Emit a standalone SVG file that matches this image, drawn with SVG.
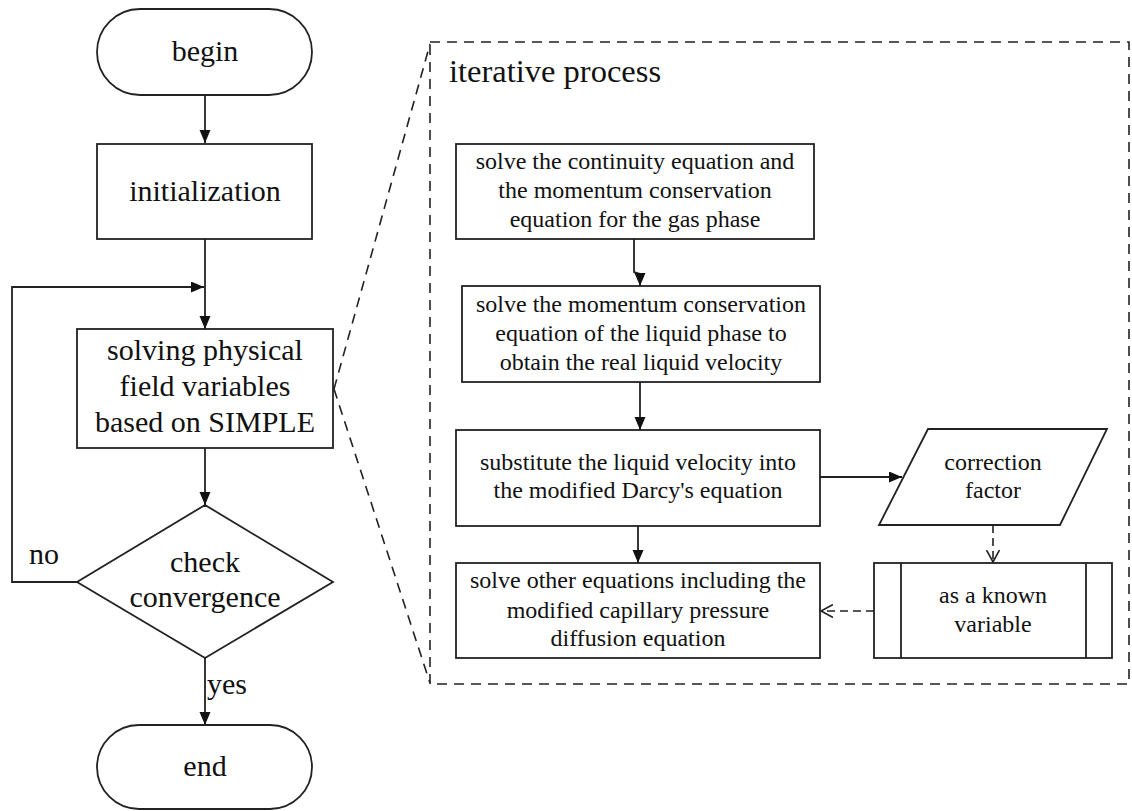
<svg xmlns="http://www.w3.org/2000/svg" width="1132" height="811" viewBox="0 0 1132 811">
<style>
.s{fill:#fff;stroke:#222;stroke-width:1.8}
.t{font-family:"Liberation Serif","Times New Roman",serif;fill:#111;text-anchor:middle}
.big{font-size:30px}
.sm{font-size:24px}
.c{fill:none;stroke:#222;stroke-width:1.8}
.d{fill:none;stroke:#222;stroke-width:1.6;stroke-dasharray:10 7}
.dc{fill:none;stroke:#222;stroke-width:1.6;stroke-dasharray:8 5}
</style>
<defs>
<marker id="a" markerUnits="userSpaceOnUse" markerWidth="14" markerHeight="12" refX="13" refY="5.5" orient="auto"><path d="M0,0 L13,5.5 L0,11 z" fill="#111"/></marker>
<marker id="o" markerUnits="userSpaceOnUse" markerWidth="14" markerHeight="14" refX="12" refY="6.5" orient="auto"><path d="M0,0 L12,6.5 L0,13" fill="none" stroke="#222" stroke-width="1.6"/></marker>
</defs>
<rect x="0" y="0" width="1132" height="811" fill="#fff"/>

<g id="zoom-frame">
<rect x="430" y="42" width="699" height="642" class="d"/>
<path d="M334,389 L430,44" class="d"/>
<path d="M334,389 L430,683" class="d"/>
<text class="t" x="449" y="82" style="font-size:32.5px;text-anchor:start">iterative process</text>
</g>

<g id="connectors">
<path d="M205,95 V143" class="c" marker-end="url(#a)"/>
<path d="M205,239 V329" class="c" marker-end="url(#a)"/>
<path d="M77,582 H12 V287 H204" class="c" marker-end="url(#a)"/>
<path d="M205,448 V505" class="c" marker-end="url(#a)"/>
<path d="M205,658 V725" class="c" marker-end="url(#a)"/>
<path d="M634,239 V272 L640,274 V286" class="c" marker-end="url(#a)"/>
<path d="M640,382 V430" class="c" marker-end="url(#a)"/>
<path d="M638,526 V563" class="c" marker-end="url(#a)"/>
<path d="M820,477 H902" class="c" marker-end="url(#a)"/>
<path d="M993,525 V562" class="dc" marker-end="url(#o)"/>
<path d="M874,611 H821" class="dc" marker-end="url(#o)"/>
<text class="t big" x="29" y="564" style="text-anchor:start">no</text>
<text class="t big" x="207" y="694" style="text-anchor:start">yes</text>
</g>

<g id="begin">
<rect x="97" y="9" width="215" height="86" rx="43" class="s"/>
<text class="t big" x="205" y="61">begin</text>
</g>
<g id="initialization">
<rect x="97" y="144" width="215" height="95" class="s"/>
<text class="t big" x="205" y="201">initialization</text>
</g>
<g id="solving">
<rect x="77" y="329" width="256" height="119" class="s"/>
<text class="t big" x="205" y="360">solving physical</text>
<text class="t big" x="205" y="396">field variables</text>
<text class="t big" x="205" y="432">based on SIMPLE</text>
</g>
<g id="check">
<path d="M205,505 L333,582 L205,658 L77,582 Z" class="s"/>
<text class="t big" x="205" y="572">check</text>
<text class="t big" x="205" y="607">convergence</text>
</g>
<g id="end">
<rect x="97" y="725" width="215" height="84" rx="42" class="s"/>
<text class="t big" x="205" y="776">end</text>
</g>

<g id="box-gas">
<rect x="456" y="144" width="358" height="95" class="s"/>
<text class="t sm" x="635" y="169">solve the continuity equation and</text>
<text class="t sm" x="635" y="198">the momentum conservation</text>
<text class="t sm" x="635" y="227">equation for the gas phase</text>
</g>
<g id="box-liquid">
<rect x="462" y="286" width="358" height="96" class="s"/>
<text class="t sm" x="641" y="312">solve the momentum conservation</text>
<text class="t sm" x="641" y="341">equation of the liquid phase to</text>
<text class="t sm" x="641" y="370">obtain the real liquid velocity</text>
</g>
<g id="box-darcy">
<rect x="456" y="430" width="364" height="96" class="s"/>
<text class="t sm" x="638" y="470">substitute the liquid velocity into</text>
<text class="t sm" x="638" y="498">the modified Darcy's equation</text>
</g>
<g id="box-other">
<rect x="456" y="563" width="364" height="95" class="s"/>
<text class="t sm" x="638" y="588">solve other equations including the</text>
<text class="t sm" x="638" y="618">modified capillary pressure</text>
<text class="t sm" x="638" y="646">diffusion equation</text>
</g>
<g id="correction-factor">
<path d="M928,429 L1107,429 L1060,525 L879,525 Z" class="s"/>
<text class="t sm" x="993" y="470">correction</text>
<text class="t sm" x="993" y="498">factor</text>
</g>
<g id="known-variable">
<rect x="874" y="563" width="238" height="95" class="s"/>
<path d="M901,563 V658 M1086,563 V658" class="c"/>
<text class="t sm" x="993" y="603">as a known</text>
<text class="t sm" x="993" y="632">variable</text>
</g>
</svg>
